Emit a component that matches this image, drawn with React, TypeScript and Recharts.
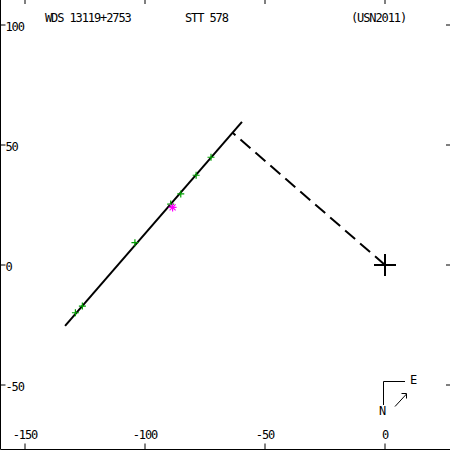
import { Scatter, ScatterChart, XAxis, YAxis } from "recharts";

// plot geometry: 2.4 px per unit, origin at (385, 265)
const W = 450;
const H = 450;
const PX = 2.4;
const OX = 385;
const OY = 265;
const xDomain = [-(OX - 0.5) / PX, (W - OX) / PX];
const yDomain = [-(H - 0.5 - OY) / PX, OY / PX];

const xTicks = [-150, -100, -50, 0];
const yTicks = [-50, 0, 50, 100];

const orbitPath = [
  { x: -133.3, y: -25.4 },
  { x: -59.6, y: 59.6 },
];
const nodeLine = [
  { x: -63.5, y: 55.1 },
  { x: 0, y: 0 },
];
const observations = [
  { x: -72.5, y: 44.9 },
  { x: -78.7, y: 37.4 },
  { x: -85.1, y: 29.6 },
  { x: -89.3, y: 25.4 },
  { x: -104.2, y: 9.3 },
  { x: -126.1, y: -17.1 },
  { x: -129.0, y: -19.9 },
];
const lastObs = [{ x: -88.5, y: 24.0 }];
const primary = [{ x: 0, y: 0 }];

const font = "'DejaVu Sans Mono', monospace";
const tickStyle = { fontSize: 12, fontFamily: font, fill: "#000", letterSpacing: -1.1 };

const noDot = () => <g />;
const noTick = () => <g />;

const GreenPlus = ({ cx, cy }: any) => (
  <path d={`M${cx - 3.5},${cy}h7M${cx},${cy - 3.5}v7`} stroke="#00a000" strokeWidth={1.2} fill="none" />
);

const Star = ({ cx, cy }: any) => (
  <path
    d={`M${cx - 4},${cy}h8M${cx},${cy - 4}v8M${cx - 3},${cy - 3}l6,6M${cx - 3},${cy + 3}l6,-6`}
    stroke="#ff00ff"
    strokeWidth={1.2}
    fill="none"
  />
);

const BigCross = ({ cx, cy }: any) => (
  <path d={`M${cx - 11},${cy}h22M${cx},${cy - 11}v22`} stroke="#000" strokeWidth={2} fill="none" />
);

export default function App() {
  return (
    <div style={{ position: "relative", width: W, height: H, background: "#fff" }}>
      <style>{"body{margin:0}"}</style>
      <ScatterChart width={W} height={H} margin={{ top: 0, right: 0, bottom: 0.5, left: 0.5 }}>
        <XAxis
          type="number"
          dataKey="x"
          domain={xDomain}
          allowDataOverflow
          ticks={xTicks}
          interval={0}
          mirror
          tickSize={6}
          tickMargin={5}
          stroke="#000"
          tickLine={{ stroke: "#000" }}
          tick={tickStyle}
        />
        <XAxis
          xAxisId="top"
          orientation="top"
          type="number"
          dataKey="x"
          domain={xDomain}
          allowDataOverflow
          ticks={xTicks}
          interval={0}
          mirror
          tickSize={4}
          axisLine={false}
          tickLine={{ stroke: "#000" }}
          tick={noTick}
        />
        <YAxis
          type="number"
          dataKey="y"
          domain={yDomain}
          allowDataOverflow
          ticks={yTicks}
          interval={0}
          mirror
          tickSize={5}
          tickMargin={0}
          stroke="#000"
          tickLine={{ stroke: "#000" }}
          tick={{ ...tickStyle, dy: 2 }}
        />
        <YAxis
          yAxisId="right"
          orientation="right"
          type="number"
          dataKey="y"
          domain={yDomain}
          allowDataOverflow
          ticks={yTicks}
          interval={0}
          mirror
          tickSize={4}
          axisLine={false}
          tickLine={{ stroke: "#000" }}
          tick={noTick}
        />
        <Scatter data={orbitPath} line={{ stroke: "#000", strokeWidth: 2 }} shape={noDot} isAnimationActive={false} />
        <Scatter
          data={nodeLine}
          line={{ stroke: "#000", strokeWidth: 2, strokeDasharray: "13.2 6.6", strokeDashoffset: 9.4 }}
          shape={noDot}
          isAnimationActive={false}
        />
        <Scatter data={observations} shape={GreenPlus} isAnimationActive={false} />
        <Scatter data={lastObs} shape={Star} isAnimationActive={false} />
        <Scatter data={primary} shape={BigCross} isAnimationActive={false} />
        <Scatter data={primary} xAxisId="top" yAxisId="right" shape={noDot} isAnimationActive={false} />
      </ScatterChart>
      <svg
        width={W}
        height={H}
        style={{ position: "absolute", left: 0, top: 0, pointerEvents: "none" }}
        fontFamily={font}
        fontSize={12}
        letterSpacing={-1.1}
      >
        <text x={45} y={22}>WDS 13119+2753</text>
        <text x={185} y={22}>STT 578</text>
        <text x={351} y={22}>(USN2011)</text>
        <path d="M383.5,405 V381.5 H405" stroke="#000" fill="none" />
        <text x={410} y={384}>E</text>
        <text x={379} y={415}>N</text>
        <path d="M395,406.5 L406.5,394 M401.5,393.5 H406.5 V398.5" stroke="#000" fill="none" />
      </svg>
    </div>
  );
}
